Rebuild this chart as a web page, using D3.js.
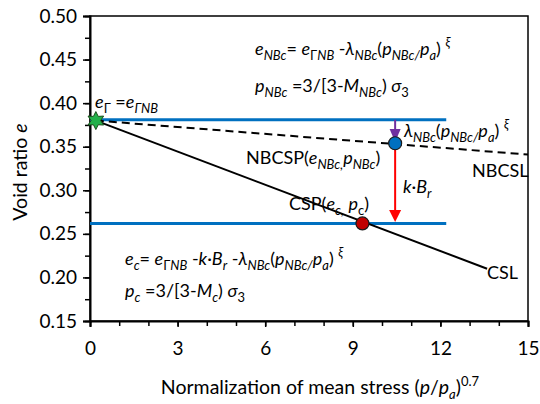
<!DOCTYPE html>
<html>
<head>
<meta charset="utf-8">
<script src="https://cdn.jsdelivr.net/npm/d3@7"></script>
<style>
  body { margin: 0; background: #fff; }
  text { font-family: Lato, "Open Sans", sans-serif; fill: #000; }
</style>
</head>
<body>
<div id="chart"></div>
<script>
// data
var xTicks = [0, 3, 6, 9, 12, 15];
var xMinor = d3.range(0, 15.01, 1);
var yTicks = [0.15, 0.2, 0.25, 0.3, 0.35, 0.4, 0.45, 0.5];
var yMinor = d3.range(0.15, 0.501, 0.025);

var cslX = [0.2, 13.6];
var cslE = [0.38, 0.21];
var nbcslX = [0.2, 15];
var nbcslE = [0.38, 0.341];
var refLineE = [0.381, 0.262];   // upper / lower blue lines
var refLineEnd = [12.2, 12.2];
var starPt = [0.2, 0.38];
var nbcspPt = [10.45, 0.354];
var cspPt = [9.33, 0.262];
var purpleArrow = [0.381, 0.3555]; // from, tip
var redArrow = [0.351, 0.2635];

var width = 540, height = 404;
var margin = { left: 90, right: 12, top: 16, bottom: 83 };

var svg = d3.select("#chart").append("svg")
  .attr("width", width).attr("height", height);

var x = d3.scaleLinear().domain([0, 15]).range([margin.left, width - margin.right]);
var y = d3.scaleLinear().domain([0.15, 0.5]).range([height - margin.bottom, margin.top]);

//frame
svg.append("rect")
  .attr("x", x(0)).attr("y", y(0.5))
  .attr("width", x(15) - x(0)).attr("height", y(0.15) - y(0.5))
  .attr("fill", "none").attr("stroke", "#000").attr("stroke-width", 1.5);

//axes
var xAxis = svg.append("g").attr("transform", "translate(0," + y(0.15) + ")");
xAxis.call(d3.axisBottom(x).tickValues(xMinor).tickSize(5).tickFormat(""));
xAxis.call(g => g.select(".domain").remove());
var xMaj = svg.append("g").attr("transform", "translate(0," + y(0.15) + ")")
  .call(d3.axisBottom(x).tickValues(xTicks).tickSize(6).tickPadding(15));
xMaj.select(".domain").attr("stroke-width", 2);
xMaj.selectAll("text").style("font-size", "19px");

var yAxis = svg.append("g").attr("transform", "translate(" + x(0) + ",0)");
yAxis.call(d3.axisLeft(y).tickValues(yMinor).tickSize(5).tickFormat(""));
yAxis.call(g => g.select(".domain").remove());
var yMaj = svg.append("g").attr("transform", "translate(" + x(0) + ",0)")
  .call(d3.axisLeft(y).tickValues(yTicks).tickSize(7).tickPadding(6).tickFormat(d3.format(".2f")));
yMaj.select(".domain").attr("stroke-width", 2);
yMaj.selectAll("text").style("font-size", "19px");
svg.selectAll(".tick line").attr("stroke-width", 1.5);

//axis titles
var xt = svg.append("text").attr("x", 320).attr("y", 394)
  .attr("text-anchor", "middle").style("font-size", "19.5px");
xt.append("tspan").text("Normalization of mean stress (");
xt.append("tspan").style("font-style", "italic").text("p");
xt.append("tspan").text("/");
xt.append("tspan").style("font-style", "italic").text("p");
xt.append("tspan").attr("dy", 5).style("font-size", "13px").style("font-style", "italic").text("a");
xt.append("tspan").attr("dy", -5).text(")");
xt.append("tspan").attr("dy", -8).style("font-size", "13px").text("0.7");

var yt = svg.append("text").attr("transform", "translate(27,172) rotate(-90)")
  .attr("text-anchor", "middle").style("font-size", "19.5px");
yt.append("tspan").text("Void ratio ");
yt.append("tspan").style("font-style", "italic").text("e");

//lines
var line = d3.line().x(d => x(d[0])).y(d => y(d[1]));

refLineE.forEach(function (e, i) {
  svg.append("path").datum([[0, e], [refLineEnd[i], e]])
    .attr("d", line).attr("stroke", "#0070c0").attr("stroke-width", 3).attr("fill", "none");
});

svg.append("path").datum(d3.zip(nbcslX, nbcslE))
  .attr("d", line).attr("stroke", "#000").attr("stroke-width", 2)
  .attr("stroke-dasharray", "8,5").attr("fill", "none");

svg.append("path").datum(d3.zip(cslX, cslE))
  .attr("d", line).attr("stroke", "#000").attr("stroke-width", 2).attr("fill", "none");

//arrows
function arrow(xv, from, tip, color, hw, hh) {
  var px = x(xv), y0 = y(from), y1 = y(tip);
  svg.append("line").attr("x1", px).attr("x2", px).attr("y1", y0).attr("y2", y1 - hh + 1)
    .attr("stroke", color).attr("stroke-width", 2);
  svg.append("path")
    .attr("d", "M" + (px - hw) + "," + (y1 - hh) + "L" + (px + hw) + "," + (y1 - hh) + "L" + px + "," + y1 + "Z")
    .attr("fill", color);
}
arrow(nbcspPt[0], purpleArrow[0], purpleArrow[1], "#7030a0", 5.5, 13);
arrow(nbcspPt[0], redArrow[0], redArrow[1], "#ff0000", 6, 12);

//points
svg.append("circle").attr("cx", x(nbcspPt[0])).attr("cy", y(nbcspPt[1])).attr("r", 6.5)
  .attr("fill", "#0070c0").attr("stroke", "#1a1a1a").attr("stroke-width", 1.2);
svg.append("circle").attr("cx", x(cspPt[0])).attr("cy", y(cspPt[1])).attr("r", 6.5)
  .attr("fill", "#c00000").attr("stroke", "#1a1a1a").attr("stroke-width", 1.2);

var starPts = d3.range(12).map(function (i) {
  var a = i * Math.PI / 6 - Math.PI / 2, r = i % 2 ? 4.8 : 9;
  return [Math.cos(a) * r, Math.sin(a) * r];
});
svg.append("path")
  .attr("d", "M" + starPts.join("L") + "Z")
  .attr("transform", "translate(" + x(starPt[0]) + "," + y(starPt[1]) + ")")
  .attr("fill", "#22b04a").attr("stroke", "#1a4d1a").attr("stroke-width", 1);

//annotations
// flags: i italic, _ subscript, ^ superscript
function rich(px, py, parts, size) {
  var t = svg.append("text").attr("x", px).attr("y", py).style("font-size", size + "px");
  var shift = 0;
  parts.forEach(function (p) {
    var s = p[0], f = p[1] || "";
    var sub = f.indexOf("_") >= 0, sup = f.indexOf("^") >= 0;
    var target = sub ? size * 0.28 : sup ? -size * 0.42 : 0;
    t.append("tspan")
      .attr("dy", target - shift)
      .style("font-size", (sub || sup ? size * 0.72 : size) + "px")
      .style("font-style", f.indexOf("i") >= 0 ? "italic" : "normal")
      .text(s);
    shift = target;
  });
  return t;
}

rich(255, 55, [["e", "i"], ["NBc", "_i"], ["= "], ["e", "i"], ["Γ", "_"], ["NB", "_i"], [" -"],
  ["λ", "i"], ["NBc", "_i"], ["("], ["p", "i"], ["NBc/", "_i"], ["p", "i"], ["a", "_i"], [") "], ["ξ", "^i"]], 18);
rich(255, 92, [["p", "i"], ["NBc", "_i"], [" =3/[3-"], ["M", "i"], ["NBc", "_i"], [") "], ["σ", "i"], ["3", "_"]], 18);
rich(404, 137, [["λ", "i"], ["NBc", "_i"], ["("], ["p", "i"], ["NBc/", "_i"], ["p", "i"], ["a", "_i"], [") "], ["ξ", "^i"]], 18);
rich(246, 164, [["NBCSP("], ["e", "i"], ["NBc,", "_i"], ["p", "i"], ["NBc", "_i"], [")"]], 18);
rich(472, 177, [["NBCSL"]], 18);
rich(403, 193, [["k", "i"], ["·"], ["B", "i"], ["r", "_i"]], 18);
rich(289, 210, [["CSP("], ["e", "i"], ["c,", "_i"], [" "], ["p", "i"], ["c", "_"], [")"]], 18);
rich(125, 265, [["e", "i"], ["c", "_i"], ["= "], ["e", "i"], ["Γ", "_"], ["NB", "_i"], [" -"], ["k", "i"], ["·"],
  ["B", "i"], ["r", "_i"], [" -"], ["λ", "i"], ["NBc", "_i"], ["("], ["p", "i"], ["NBc/", "_i"], ["p", "i"],
  ["a", "_i"], [") "], ["ξ", "^i"]], 18);
rich(125, 297, [["p", "i"], ["c", "_i"], [" =3/[3-"], ["M", "i"], ["c", "_i"], [") "], ["σ", "i"], ["3", "_"]], 18);
rich(487, 279, [["CSL"]], 18);
rich(95, 108, [["e", "i"], ["Γ", "_"], [" ="], ["e", "i"], ["ΓNB", "_i"]], 18);
</script>
</body>
</html>
